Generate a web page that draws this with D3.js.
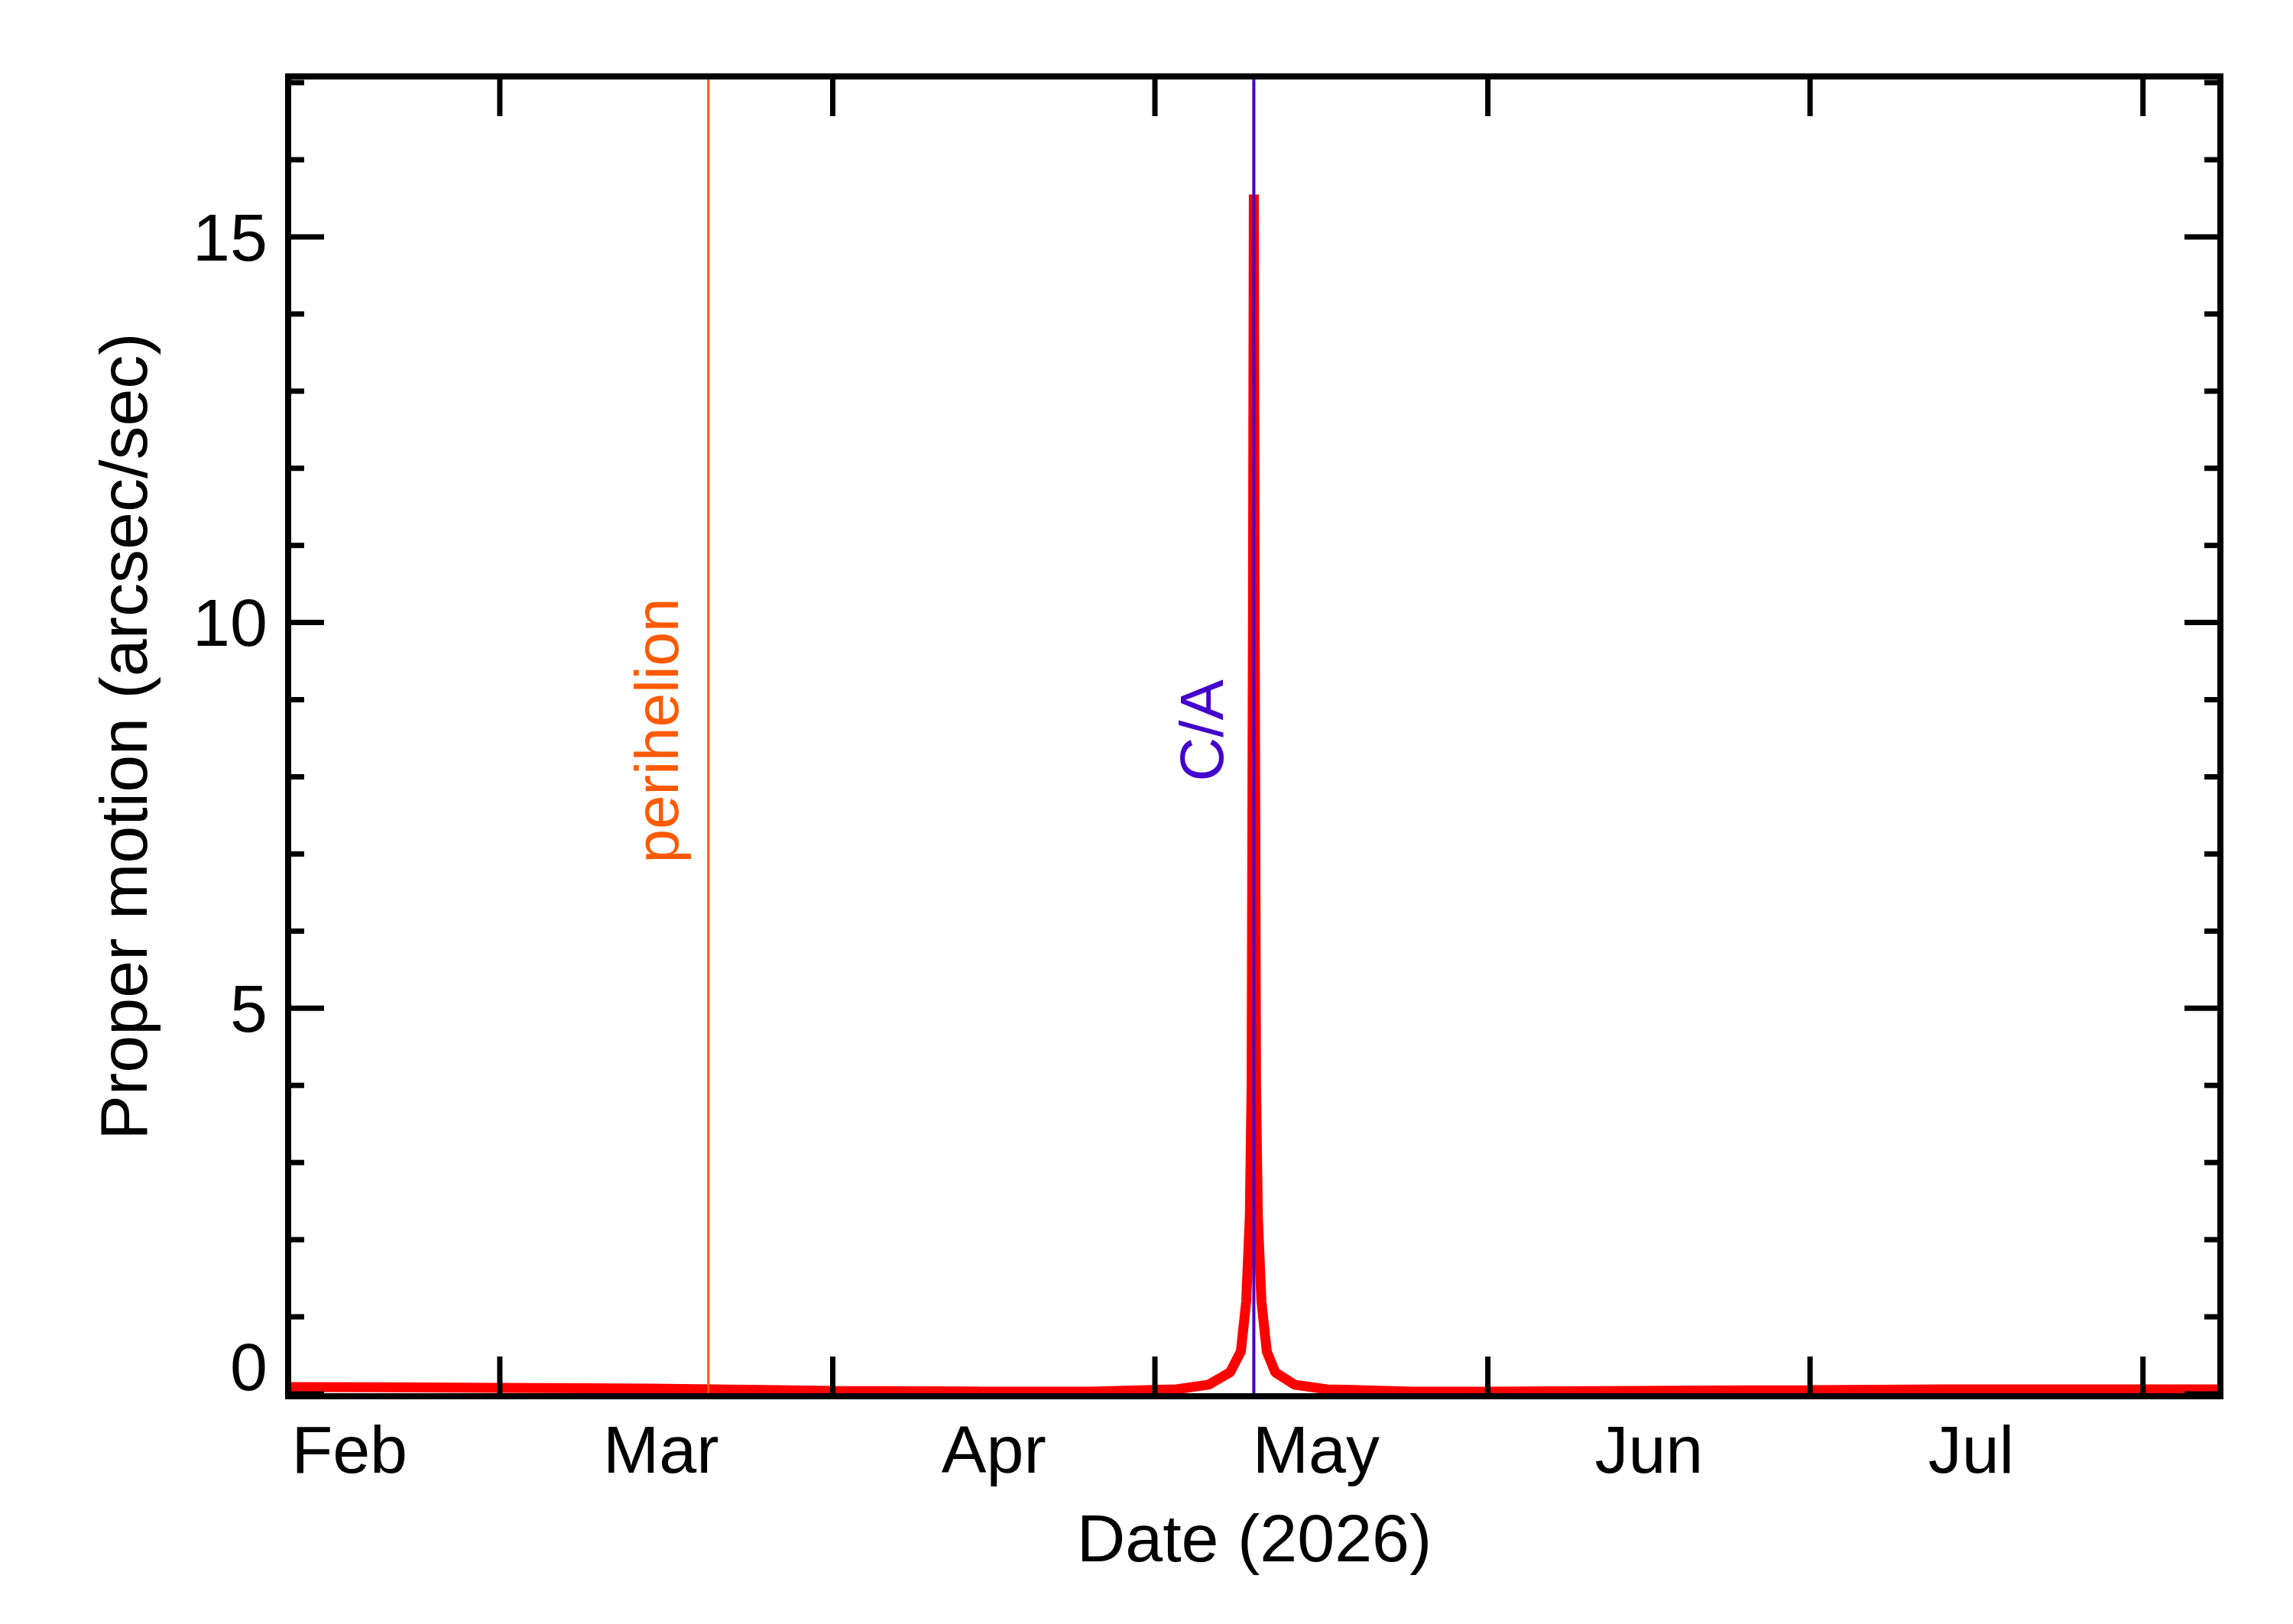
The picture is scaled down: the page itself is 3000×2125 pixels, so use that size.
<!DOCTYPE html>
<html>
<head>
<meta charset="utf-8">
<script src="https://cdn.jsdelivr.net/npm/d3@7"></script>
<style>
  body { margin: 0; background: #fff; }
  text { font-family: "Liberation Sans", Arial, sans-serif; }
</style>
</head>
<body>
<script>
// proper motion samples (date, arcsec/sec)
var motionDates = ["2026-02-09T06:00", "2026-03-01", "2026-03-15", "2026-04-01", "2026-04-15",
    "2026-04-25", "2026-05-03", "2026-05-06", "2026-05-08", "2026-05-09T00:00",
    "2026-05-09T12:00", "2026-05-09T20:00", "2026-05-10T00:00", "2026-05-10T03:00", "2026-05-10T05:00",
    "2026-05-10T07:00", "2026-05-10T10:00", "2026-05-10T14:00", "2026-05-10T22:00", "2026-05-11T10:00",
    "2026-05-12T05:00", "2026-05-14", "2026-05-17", "2026-05-25", "2026-06-01",
    "2026-06-15", "2026-07-01", "2026-07-15", "2026-08-08T06:00"];
var motionValues = [0.09, 0.08, 0.07, 0.04, 0.03,
    0.03, 0.06, 0.12, 0.28, 0.55,
    1.2, 2.3, 4.0, 10.0, 15.55,
    10.0, 4.0, 2.3, 1.2, 0.55,
    0.28, 0.12, 0.06, 0.03, 0.03,
    0.04, 0.05, 0.06, 0.06];

var monthTicks = ["2026-03-01", "2026-04-01", "2026-05-01", "2026-06-01", "2026-07-01", "2026-08-01"];
var monthLabels = ["Feb", "Mar", "Apr", "May", "Jun", "Jul"];
var monthLabelDates = ["2026-02-15", "2026-03-16", "2026-04-16", "2026-05-16", "2026-06-16", "2026-07-16"];
var yMajor = [0, 5, 10, 15];
var yMinor = d3.range(0, 18);

var events = [
    {name: "perihelion", date: "2026-03-20T10:00", color: "#ff5a00", width: 3},
    {name: "C/A", date: "2026-05-10T05:00", color: "#4400cc", width: 4}
];

var parse = d3.isoParse;
var W = 3000, H = 2125;
var pLeft = 377, pRight = 2905, pTop = 100, pBottom = 1827;

var x = d3.scaleTime()
        .domain([parse("2026-02-09T07:00"), parse("2026-08-08T05:00")])
        .range([pLeft, pRight]);
var y = d3.scaleLinear()
        .domain([-0.03, 17.08])
        .range([pBottom, pTop]);

var svg = d3.select("body").append("svg")
        .attr("width", W).attr("height", H);

var data = motionDates.map(function (d, i) { return [parse(d), motionValues[i]]; });

// curve
svg.append("path")
        .datum(data)
        .attr("fill", "none")
        .attr("stroke", "#ff0000")
        .attr("stroke-width", 13)
        .attr("stroke-linejoin", "bevel")
        .attr("d", d3.line().x(function (d) { return x(d[0]); }).y(function (d) { return y(d[1]); }));

// event markers
events.forEach(function (e) {
    var ex = x(parse(e.date));
    svg.append("line")
            .attr("x1", ex).attr("x2", ex).attr("y1", pTop).attr("y2", pBottom - 2)
            .attr("stroke", e.color).attr("stroke-width", e.width);
    svg.append("text")
            .attr("transform", "translate(" + (ex - 40) + "," + y(8.6) + ") rotate(-90)")
            .attr("text-anchor", "middle")
            .attr("fill", e.color)
            .attr("font-size", 80)
            .text(e.name);
});

// frame
svg.append("rect")
        .attr("x", pLeft).attr("y", pTop)
        .attr("width", pRight - pLeft).attr("height", pBottom - pTop)
        .attr("fill", "none").attr("stroke", "#000").attr("stroke-width", 8);

var ticks = svg.append("g").attr("stroke", "#000").attr("stroke-width", 7);

// x ticks at month starts, bottom and top
monthTicks.forEach(function (d) {
    var tx = x(parse(d));
    ticks.append("line").attr("x1", tx).attr("x2", tx).attr("y1", pBottom).attr("y2", pBottom - 52);
    ticks.append("line").attr("x1", tx).attr("x2", tx).attr("y1", pTop).attr("y2", pTop + 52);
});

// y ticks, both sides
yMinor.forEach(function (v) {
    var len = yMajor.indexOf(v) >= 0 ? 47 : 21;
    var ty = y(v);
    if (ty > pBottom || ty < pTop) return;
    ticks.append("line").attr("x1", pLeft).attr("x2", pLeft + len).attr("y1", ty).attr("y2", ty);
    ticks.append("line").attr("x1", pRight).attr("x2", pRight - len).attr("y1", ty).attr("y2", ty);
});

// tick labels
svg.selectAll(".xl").data(monthLabels).enter().append("text")
        .attr("x", function (d, i) { return x(parse(monthLabelDates[i])); })
        .attr("y", 1927)
        .attr("text-anchor", "middle")
        .attr("font-size", 88)
        .text(function (d) { return d; });

svg.selectAll(".yl").data(yMajor).enter().append("text")
        .attr("x", 350)
        .attr("y", function (d) { return d === 0 ? y(d) - 36 : y(d); })
        .attr("dy", "0.35em")
        .attr("text-anchor", "end")
        .attr("font-size", 88)
        .text(function (d) { return d; });

// axis titles
svg.append("text")
        .attr("x", (pLeft + pRight) / 2).attr("y", 2043)
        .attr("text-anchor", "middle")
        .attr("font-size", 88)
        .text("Date (2026)");

svg.append("text")
        .attr("transform", "translate(192," + ((pTop + pBottom) / 2) + ") rotate(-90)")
        .attr("text-anchor", "middle")
        .attr("font-size", 88)
        .text("Proper motion (arcsec/sec)");
</script>
</body>
</html>
